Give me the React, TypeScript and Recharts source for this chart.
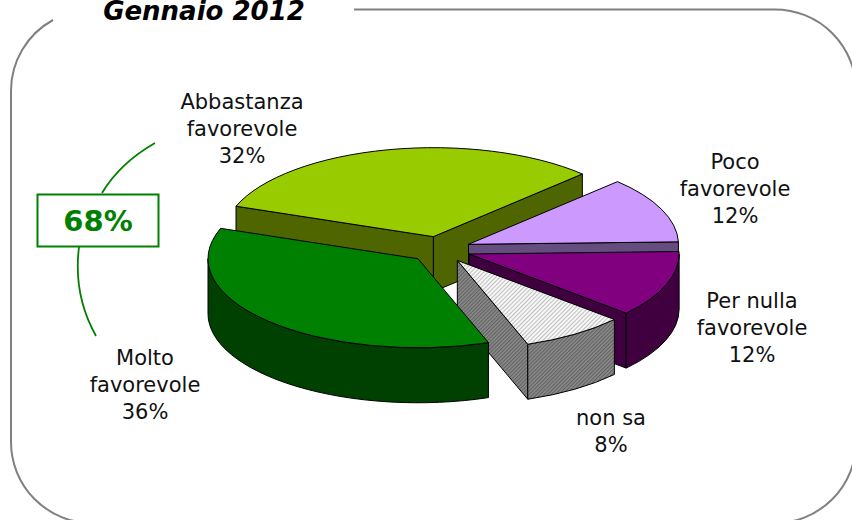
import { PieChart, Pie } from "recharts";

const categories = ["Abbastanza\nfavorevole", "Poco\nfavorevole", "Per nulla\nfavorevole", "non sa", "Molto\nfavorevole"];
const shares = [32, 12, 12, 8, 36];
const topFills = ["#99cc00", "#cc99ff", "#800080", "url(#hatchTop)", "#008000"];
const sideFills = ["#4f6600", "#664d80", "#400040", "url(#hatchSide)", "#004000"];
// centre x and first baseline of each label
const labelSpots = [
  [242, 109],
  [735, 169],
  [752, 308],
  [611, 425],
  [145, 365],
];

const chartData = categories.map((name, i) => ({ name, value: shares[i] }));

const FONT = "'DejaVu Sans', Verdana, sans-serif";
const SQUASH = 89 / 210;
const DEPTH = 55;
const EXPLODE = 31;

// 3D slice: takes the sector angles from the Pie and squashes them into an ellipse
function Slice(props: any) {
  const { cx, cy, outerRadius, startAngle, endAngle, index } = props;
  let a1 = Math.min(startAngle, endAngle);
  let a2 = Math.max(startAngle, endAngle);
  while (a1 < 0) {
    a1 += 360;
    a2 += 360;
  }
  const rad = (d: number) => (d * Math.PI) / 180;
  const mid = rad((a1 + a2) / 2);
  const ox = cx + EXPLODE * Math.cos(mid);
  const oy = cy - EXPLODE * SQUASH * Math.sin(mid);
  const rx = outerRadius;
  const ry = outerRadius * SQUASH;
  const px = (a: number) => ox + rx * Math.cos(rad(a));
  const py = (a: number) => oy - ry * Math.sin(rad(a));

  const side = sideFills[index];
  const wall = (a: number) =>
    `M${ox},${oy} L${px(a)},${py(a)} L${px(a)},${py(a) + DEPTH} L${ox},${oy + DEPTH} Z`;

  const t1 = Math.max(a1, 180);
  const t2 = Math.min(a2, 360);
  const large = a2 - a1 > 180 ? 1 : 0;

  return (
    <g stroke="#000" strokeWidth={1} strokeLinejoin="round">
      {Math.sin(rad(a1 - 90)) < 0 && <path d={wall(a1)} fill={side} />}
      {Math.sin(rad(a2 + 90)) < 0 && <path d={wall(a2)} fill={side} />}
      {t1 < t2 && (
        <path
          d={`M${px(t1)},${py(t1)} A${rx},${ry} 0 0 0 ${px(t2)},${py(t2)} L${px(t2)},${py(t2) + DEPTH} A${rx},${ry} 0 0 1 ${px(t1)},${py(t1) + DEPTH} Z`}
          fill={side}
        />
      )}
      <path
        d={`M${ox},${oy} L${px(a1)},${py(a1)} A${rx},${ry} 0 ${large} 0 ${px(a2)},${py(a2)} Z`}
        fill={topFills[index]}
      />
    </g>
  );
}

function SliceLabel(props: any) {
  const { index } = props;
  const [x, y] = labelSpots[index];
  const lines = [...categories[index].split("\n"), `${shares[index]}%`];
  return (
    <text textAnchor="middle" fontFamily={FONT} fontSize={21} fill="#111">
      {lines.map((line, i) => (
        <tspan key={i} x={x} y={y + i * 27}>
          {line}
        </tspan>
      ))}
    </text>
  );
}

export default function App() {
  return (
    <div style={{ position: "absolute", left: 0, top: 0, width: 852, height: 520, background: "#fff" }}>
      <PieChart width={852} height={520} margin={{ top: 0, right: 0, bottom: 0, left: 0 }}>
        <defs>
          <pattern id="hatchTop" width="3" height="3" patternUnits="userSpaceOnUse" patternTransform="rotate(-45)">
            <rect width="3" height="3" fill="#f6f6f6" />
            <rect width="3" height="1" fill="#c0c0c0" />
          </pattern>
          <pattern id="hatchSide" width="2.6" height="2.6" patternUnits="userSpaceOnUse" patternTransform="rotate(-45)">
            <rect width="2.6" height="2.6" fill="#8c8c8c" />
            <rect width="2.6" height="1.1" fill="#606060" />
          </pattern>
        </defs>

        <path
          d="M53,20 A81,81 0 0 0 11,90.5 L11,442 A81,81 0 0 0 92,523 L775,523 A81,81 0 0 0 856,442 L856,90.5 A81,81 0 0 0 775,9.5 L354,9.5"
          fill="none"
          stroke="#808080"
          strokeWidth={2}
        />
        <text x={204} y={19.5} textAnchor="middle" fontFamily={FONT} fontSize={26} fontWeight="bold" fontStyle="italic" fill="#000">
          Gennaio 2012
        </text>

        <path d="M155,143 Q120,163 102,193" fill="none" stroke="#008000" strokeWidth={1.8} />
        <path d="M79,247 Q73,295 96,336" fill="none" stroke="#008000" strokeWidth={1.8} />
        <rect x={37.5} y={194.5} width={121} height={52} fill="#fff" stroke="#008000" strokeWidth={2} />
        <text x={98} y={231} textAnchor="middle" fontFamily={FONT} fontSize={29} fontWeight="bold" fill="#008000">
          68%
        </text>

        <Pie
          data={chartData}
          dataKey="value"
          nameKey="name"
          cx={440}
          cy={249.5}
          innerRadius={0}
          outerRadius={210}
          startAngle={160}
          endAngle={-200}
          shape={Slice}
          label={SliceLabel}
          labelLine={false}
          isAnimationActive={false}
        />
      </PieChart>
    </div>
  );
}
